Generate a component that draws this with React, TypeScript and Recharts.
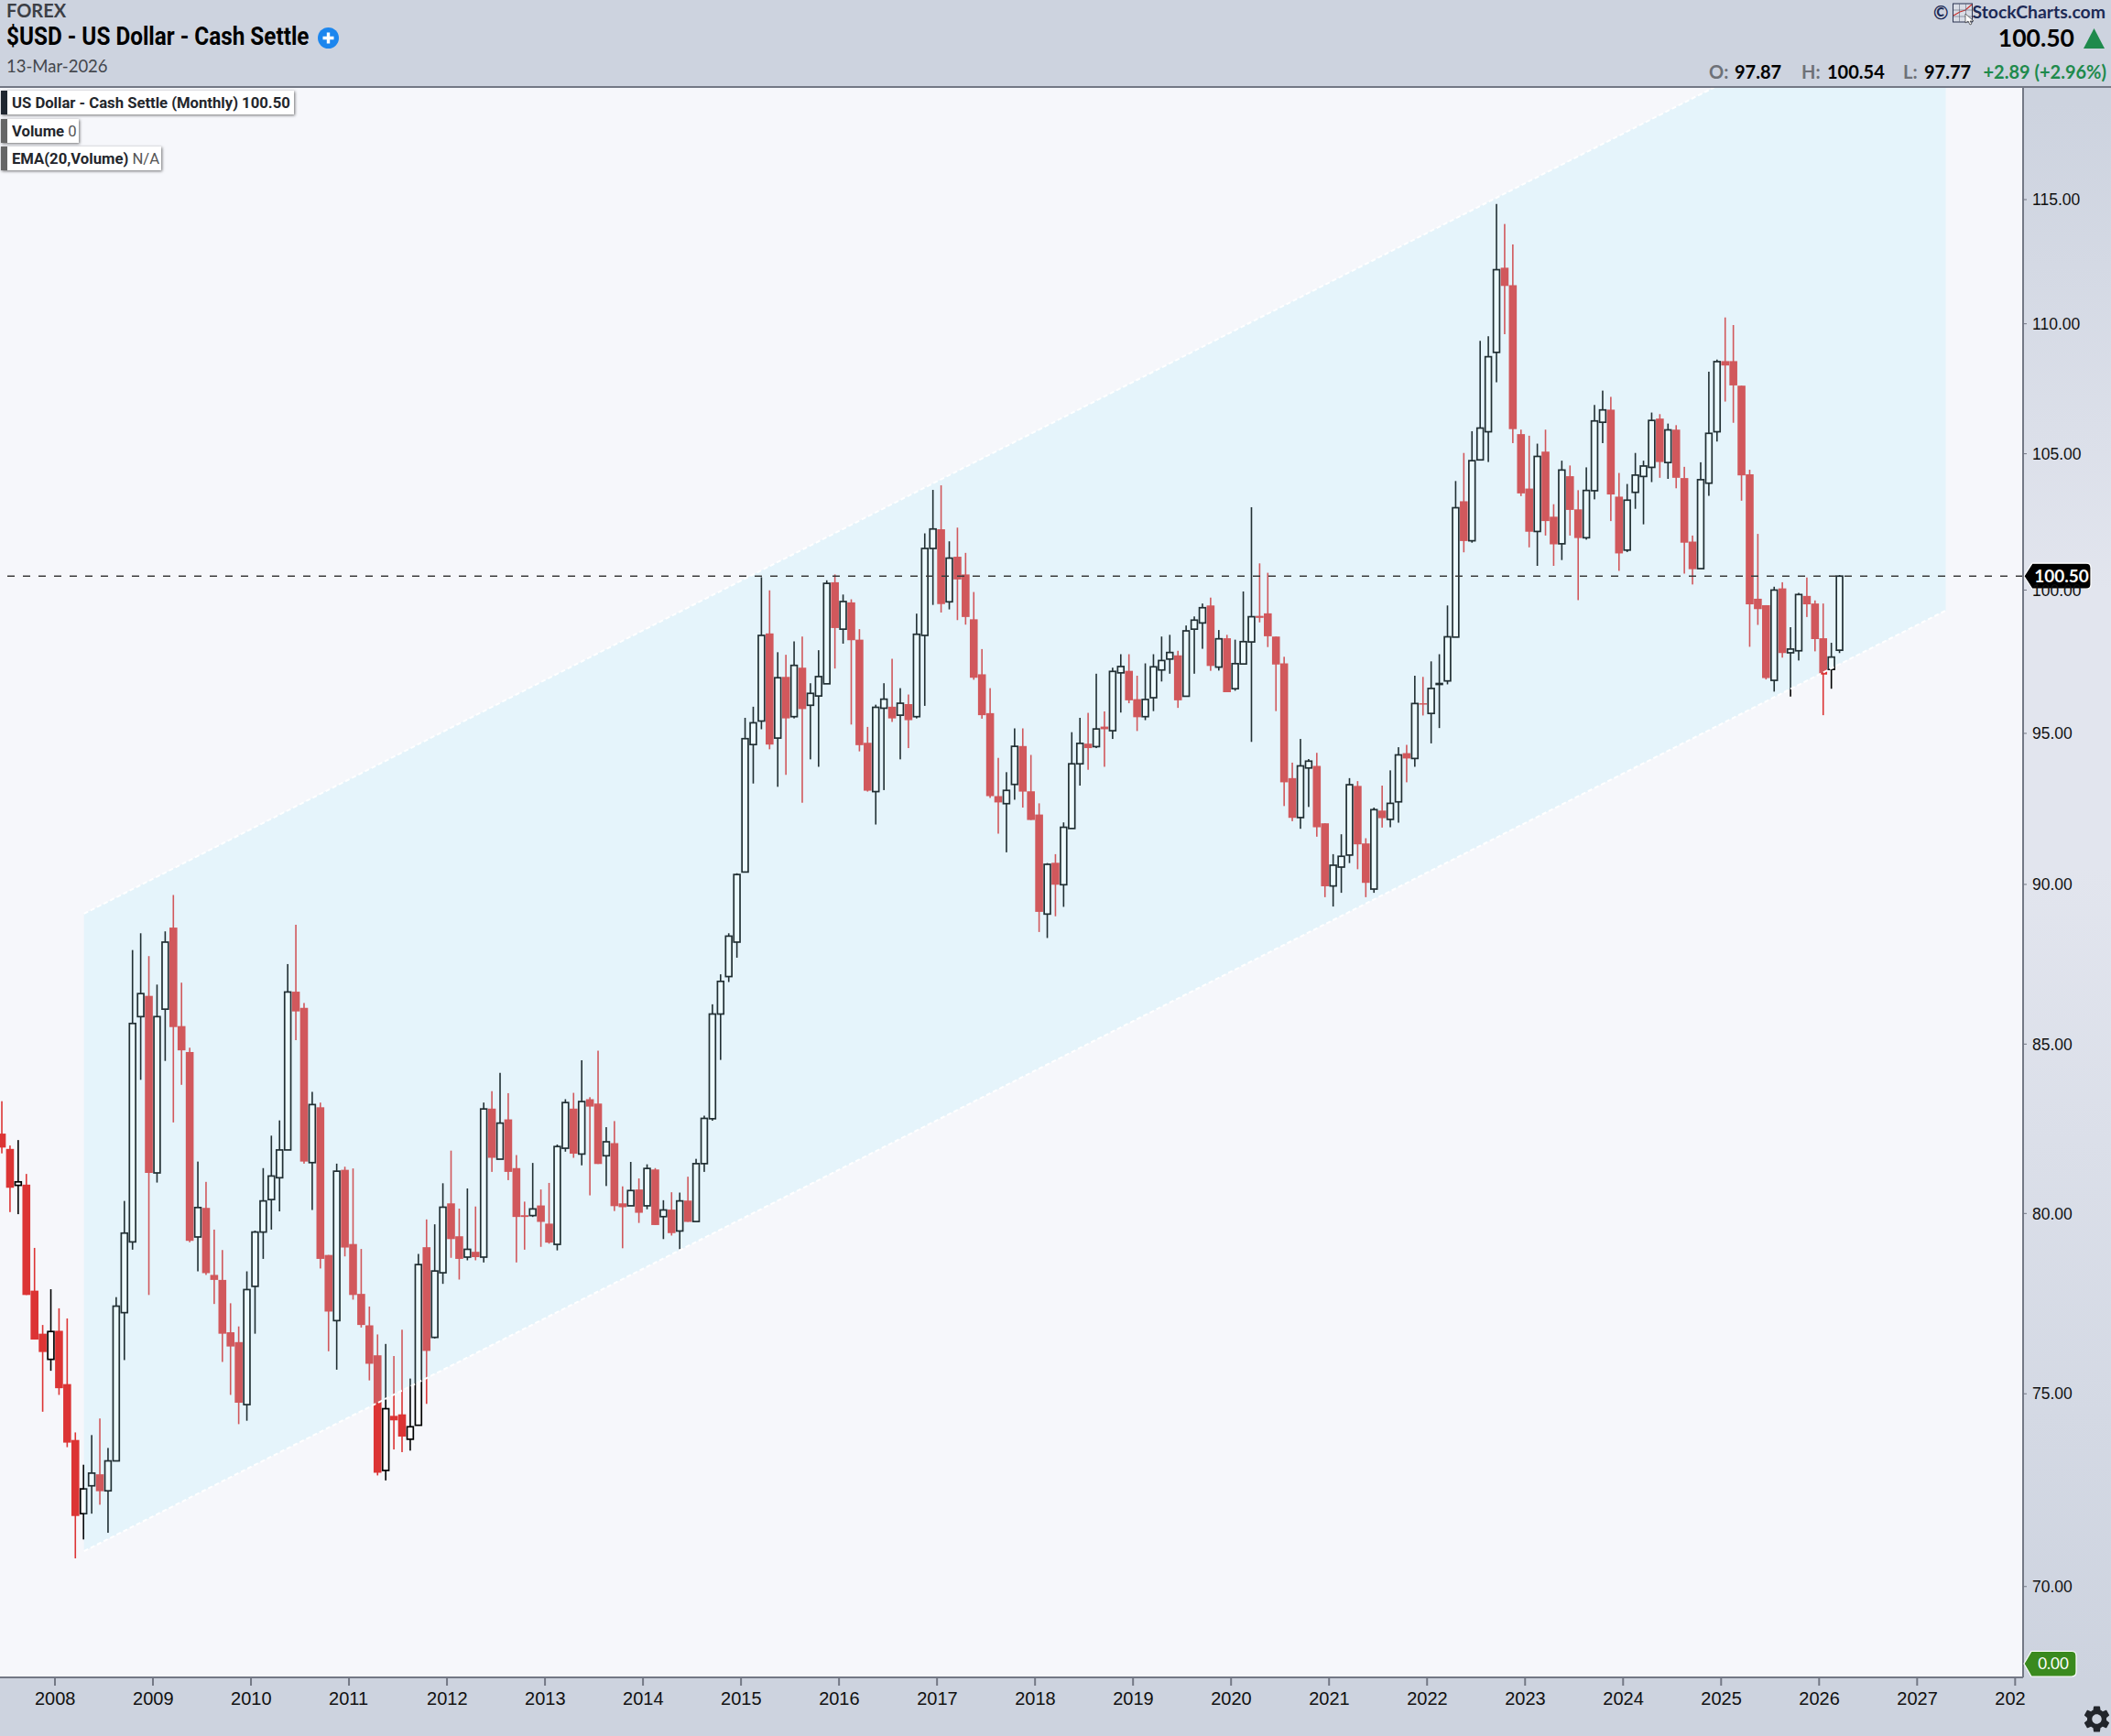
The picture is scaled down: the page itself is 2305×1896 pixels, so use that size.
import { Area, Bar, CartesianGrid, ComposedChart, ReferenceLine, XAxis, YAxis } from "recharts";

// monthly candles, first bar is Jun 2007, last is Mar 2026
const START_YEAR = 2007;
const START_MONTH = 5;

const opens = [
  82.32, 81.87, 80.81, 80.83, 77.82, 76.63, 75.93,
  76.71, 75.26, 73.77, 71.85, 72.57, 72.87, 72.44, 73.22, 77.21, 79.19, 85.84, 86.48,
  81.17, 86.07, 88.62, 85.55, 84.76, 79.33, 80.16, 78.26, 78.12, 76.67, 76.40, 74.71,
  77.94, 79.47, 80.40, 81.03, 81.84, 86.61, 86.11, 81.47, 83.10, 78.82, 76.99, 81.26,
  79.13, 77.73, 76.86, 76.04, 72.97, 74.41, 74.45, 73.79, 74.16, 79.04, 76.53, 78.32,
  80.29, 79.35, 78.76, 78.91, 78.76, 83.06, 81.57, 82.74, 81.31, 79.95, 79.94, 80.23,
  79.71, 79.12, 81.89, 83.06, 81.72, 83.34, 83.21, 81.67, 82.04, 80.29, 80.22, 80.69,
  80.22, 81.27, 79.91, 80.11, 79.50, 80.37, 79.77, 81.44, 82.76, 85.92, 87.08, 88.16,
  90.40, 94.62, 95.42, 98.46, 94.84, 96.94, 95.57, 97.26, 95.96, 96.28, 96.70, 100.28,
  98.61, 99.56, 98.24, 94.68, 93.04, 95.86, 95.91, 95.62, 96.00, 95.57, 98.39, 101.50,
  102.20, 99.58, 101.20, 100.56, 98.96, 97.03, 95.69, 92.89, 92.64, 93.28, 94.57, 93.05,
  92.28, 89.05, 90.70, 89.99, 91.82, 93.97, 94.65, 94.55, 95.23, 95.09, 97.08, 97.15,
  96.17, 95.57, 96.22, 97.18, 97.56, 97.69, 96.27, 98.61, 98.83, 99.45, 97.28, 98.29,
  96.53, 97.39, 98.16, 99.08, 99.17, 98.35, 97.41, 93.49, 92.18, 93.83, 93.90, 91.99,
  89.95, 90.56, 90.95, 93.23, 91.33, 89.85, 92.41, 92.12, 92.70, 94.33, 94.15, 96.03,
  95.68, 96.69, 96.80, 98.33, 103.23, 101.78, 104.77, 105.83, 108.88, 112.23, 111.53, 105.74,
  103.70, 102.12, 105.08, 102.66, 101.67, 104.16, 102.93, 101.89, 103.62, 106.19, 106.67, 103.40,
  101.44, 103.56, 104.15, 104.49, 106.33, 104.67, 105.91, 104.09, 101.75, 100.77, 103.90, 105.83,
  108.54, 108.54, 107.59, 104.23, 99.69, 99.46, 96.82, 100.06, 97.78, 97.85, 99.79, 99.52,
  98.29, 97.20, 97.87,
];

const highs = [
  83.28, 81.97, 82.13, 81.14, 79.02, 76.87, 77.86,
  77.33, 77.05, 73.97, 73.12, 73.90, 74.34, 73.56, 77.64, 80.36, 87.91, 88.44, 87.72,
  86.83, 88.50, 89.66, 86.89, 84.89, 81.50, 80.91, 79.54, 78.96, 77.47, 76.83, 78.36,
  79.51, 81.31, 82.26, 82.71, 87.47, 88.71, 86.26, 83.56, 83.24, 78.82, 81.44, 81.35,
  81.30, 78.99, 77.38, 76.61, 76.35, 76.02, 76.74, 75.41, 78.85, 79.83, 79.69, 80.87,
  81.82, 80.14, 80.72, 80.20, 83.24, 83.58, 84.13, 83.52, 81.69, 80.34, 81.46, 80.69,
  80.88, 82.00, 83.34, 83.53, 84.51, 83.40, 84.80, 82.51, 82.69, 80.78, 81.49, 81.01,
  81.42, 81.31, 80.38, 80.61, 80.60, 81.06, 81.58, 82.85, 86.22, 87.15, 88.44, 90.36,
  95.53, 95.91, 100.46, 99.99, 97.80, 97.71, 98.18, 98.35, 96.72, 97.87, 100.35, 100.56,
  99.84, 99.67, 98.61, 95.22, 95.98, 96.72, 97.57, 96.55, 96.33, 99.16, 102.05, 103.65,
  103.82, 101.76, 102.26, 101.34, 99.93, 97.91, 96.55, 94.17, 93.69, 95.17, 95.17, 94.27,
  92.65, 90.69, 90.98, 92.02, 95.04, 95.53, 95.70, 97.05, 95.75, 97.26, 97.73, 97.73,
  96.98, 97.41, 97.73, 98.35, 98.41, 97.85, 98.74, 99.06, 99.52, 99.73, 98.58, 98.41,
  98.24, 99.95, 103.01, 100.96, 100.62, 98.35, 97.64, 94.01, 94.81, 94.13, 94.34, 91.99,
  90.98, 91.63, 93.49, 93.39, 91.50, 92.51, 93.24, 93.75, 94.53, 94.61, 96.98, 96.94,
  97.48, 97.73, 99.45, 103.98, 105.03, 105.85, 109.33, 109.51, 114.82, 114.00, 113.17, 105.91,
  105.68, 105.38, 105.91, 103.12, 104.74, 104.56, 103.64, 104.49, 106.85, 107.40, 107.16, 104.28,
  103.87, 105.03, 104.74, 106.56, 106.50, 106.14, 106.08, 104.51, 101.97, 104.68, 108.13, 108.60,
  110.25, 109.95, 107.59, 104.40, 102.03, 99.46, 100.12, 100.28, 98.68, 99.90, 100.45, 99.63,
  99.52, 98.13, 100.54,
];

const lows = [
  81.74, 80.04, 79.98, 77.70, 76.47, 74.52, 75.62,
  74.97, 73.58, 70.71, 71.19, 71.85, 72.08, 71.36, 73.22, 75.91, 78.97, 83.92, 77.70,
  80.89, 84.49, 82.65, 83.77, 79.18, 78.36, 78.26, 77.45, 75.86, 74.97, 74.19, 74.28,
  76.63, 78.71, 79.54, 80.06, 81.84, 85.12, 81.44, 80.10, 78.44, 76.15, 75.65, 78.78,
  77.57, 76.80, 75.36, 72.84, 72.71, 73.52, 73.45, 73.49, 74.16, 74.73, 76.50, 78.01,
  78.74, 78.13, 78.67, 78.67, 78.61, 81.20, 81.57, 80.96, 78.61, 78.97, 79.90, 79.05,
  79.14, 78.95, 81.79, 81.61, 81.39, 80.52, 81.43, 80.79, 80.07, 79.01, 80.22, 79.73,
  80.12, 79.67, 79.27, 79.37, 78.98, 79.76, 79.77, 81.20, 82.70, 84.52, 86.91, 87.67,
  90.40, 93.31, 95.14, 94.46, 93.20, 93.60, 95.51, 92.67, 94.12, 93.87, 96.70, 97.23,
  98.10, 95.30, 94.39, 93.04, 91.95, 93.09, 95.39, 94.12, 94.50, 95.51, 95.94, 99.47,
  99.20, 99.31, 98.93, 98.77, 96.84, 95.50, 92.83, 91.65, 91.04, 92.77, 92.51, 92.10,
  88.48, 88.29, 88.98, 89.28, 91.82, 93.24, 93.77, 94.50, 93.87, 94.81, 95.71, 96.03,
  95.08, 95.45, 95.76, 96.78, 97.05, 95.87, 96.27, 97.05, 97.92, 97.15, 97.16, 96.41,
  96.46, 97.39, 94.71, 98.85, 97.98, 95.76, 92.56, 92.06, 91.81, 92.53, 91.55, 89.59,
  89.29, 89.73, 90.69, 90.49, 89.59, 89.73, 91.85, 91.86, 92.01, 93.35, 93.87, 95.61,
  94.66, 95.18, 96.68, 98.33, 101.36, 101.71, 104.77, 104.69, 107.72, 109.59, 105.40, 103.42,
  101.54, 100.87, 101.97, 100.87, 101.08, 101.97, 99.64, 101.82, 103.30, 105.40, 102.50, 100.69,
  101.37, 102.95, 102.38, 103.94, 104.10, 104.06, 103.71, 100.59, 100.20, 100.77, 103.43, 105.46,
  106.98, 106.17, 103.25, 97.99, 98.76, 96.85, 96.43, 97.61, 96.26, 97.51, 99.04, 97.83,
  95.62, 96.53, 97.77,
];

const closes = [
  81.91, 80.74, 80.91, 77.70, 76.47, 76.13, 76.69,
  75.15, 73.70, 71.79, 72.49, 72.90, 72.43, 73.22, 77.39, 79.44, 85.63, 86.55, 81.17,
  85.84, 88.16, 85.52, 84.81, 79.22, 80.17, 78.31, 78.12, 76.63, 76.28, 74.76, 77.85,
  79.47, 80.36, 81.08, 81.84, 86.60, 86.00, 81.50, 83.18, 78.71, 77.24, 81.22, 79.03,
  77.70, 76.87, 75.81, 72.91, 74.60, 74.29, 73.86, 74.12, 78.55, 76.16, 78.37, 80.18,
  79.27, 78.71, 78.98, 78.76, 83.05, 81.61, 82.63, 81.20, 79.90, 79.90, 80.13, 79.76,
  79.17, 81.94, 83.24, 81.73, 83.27, 83.12, 81.43, 82.08, 80.21, 80.18, 80.66, 80.02,
  81.30, 79.67, 80.10, 79.44, 80.36, 79.76, 81.44, 82.77, 85.92, 86.93, 88.35, 90.32,
  94.82, 95.36, 98.39, 94.62, 96.91, 95.51, 97.34, 95.83, 96.37, 96.95, 100.24, 98.65,
  99.59, 98.22, 94.60, 93.07, 95.89, 96.17, 95.51, 96.03, 95.45, 98.43, 101.50, 102.21,
  99.50, 101.15, 100.38, 99.04, 96.91, 95.62, 92.89, 92.68, 93.08, 94.56, 93.04, 92.10,
  89.12, 90.65, 89.99, 91.86, 93.97, 94.66, 94.50, 95.15, 95.14, 97.13, 97.30, 96.13,
  95.55, 96.16, 97.29, 97.51, 97.79, 96.13, 98.55, 98.93, 99.37, 97.32, 98.27, 96.41,
  97.40, 98.17, 99.05, 99.01, 98.36, 97.37, 93.35, 92.17, 93.90, 94.06, 91.86, 89.94,
  90.62, 90.91, 93.27, 91.30, 90.05, 92.44, 92.16, 92.65, 94.27, 94.15, 96.02, 96.00,
  96.54, 96.71, 98.34, 102.99, 101.77, 104.74, 105.97, 108.71, 112.15, 111.50, 105.93, 103.52,
  102.11, 104.90, 102.50, 101.65, 104.39, 102.91, 101.88, 103.63, 106.24, 106.66, 103.48, 101.32,
  103.27, 104.20, 104.54, 106.26, 104.69, 105.90, 104.10, 101.71, 100.75, 104.03, 105.77, 108.52,
  108.37, 107.60, 104.19, 99.49, 99.32, 96.90, 100.00, 97.77, 97.91, 99.84, 99.49, 98.26,
  97.02, 97.63, 100.50,
];

const yTicks = [70, 75, 80, 85, 90, 95, 100, 105, 110, 115];
const xTicks = [2008, 2009, 2010, 2011, 2012, 2013, 2014, 2015, 2016, 2017, 2018, 2019, 2020, 2021, 2022, 2023, 2024, 2025, 2026, 2027, 2028];

// the drawn channel: lower and upper edge at its two ends
const channelTimes = [2008.296, 2027.292];
const channelLower = [70.89, 99.27];
const channelUpper = [89.06, 124.85];

const lastClose = 100.5;

const candles = opens.map((open, i) => ({
  t: START_YEAR + (START_MONTH + i + 0.5) / 12,
  open,
  high: highs[i],
  low: lows[i],
  close: closes[i],
}));

const channelRows = channelTimes.map((t, i) => ({
  t,
  channel: [channelLower[i], channelUpper[i]],
}));

const AXIS_LINE = "#737885";
const LABEL_FONT = "'Liberation Sans', Arial, sans-serif";
const GREEN = "#1e8a4c";

function Candle(props: any) {
  const { x, y, width, height, payload } = props;
  if (!payload || !height) return null;
  const { open, high, low, close } = payload;
  // bar spans high..low on the log axis, so place open/close by log ratio
  const yOf = (v: number) => y + (height * Math.log(high / v)) / Math.log(high / low);
  const cx = x + width / 2;
  const top = yOf(Math.max(open, close));
  const bottom = yOf(Math.min(open, close));
  if (close < open) {
    return (
      <g>
        <rect x={cx - 0.8} y={y} width={1.6} height={height} fill="#dc3434" />
        <rect x={cx - 4.3} y={top} width={8.6} height={Math.max(bottom - top, 1.5)} fill="#dc3434" />
      </g>
    );
  }
  return (
    <g>
      <rect x={cx - 0.8} y={y} width={1.6} height={height} fill="#000" />
      <rect
        x={cx - 3.4}
        y={top}
        width={6.8}
        height={Math.max(bottom - top, 1)}
        fill="#fff"
        stroke="#000"
        strokeWidth={1.7}
      />
    </g>
  );
}

function YearTick(props: any) {
  const { x, y, payload } = props;
  // the last year label is cut by the price axis in the original
  const label = payload.value === 2028 ? "202" : String(payload.value);
  return (
    <text x={x - 22} y={y + 19} fontSize={20} fontFamily={LABEL_FONT} fill="#111">
      {label}
    </text>
  );
}

function PriceBadge(props: any) {
  const { viewBox } = props;
  const left = viewBox.x + viewBox.width + 1;
  const cy = viewBox.y;
  return (
    <g>
      <path
        d={`M${left} ${cy} L${left + 9} ${cy - 14} H${left + 68} q5 0 5 5 V${cy + 9} q0 5 -5 5 H${left + 9} Z`}
        fill="#000"
        stroke="#fff"
        strokeWidth={1.2}
      />
      <text
        x={left + 41}
        y={cy + 7}
        textAnchor="middle"
        fontSize={19}
        fontWeight={700}
        fontFamily="Lato, sans-serif"
        fill="#fff"
      >
        100.50
      </text>
    </g>
  );
}

function LegendChip({ top, width, barColor, bold, light }: any) {
  return (
    <div
      style={{
        position: "absolute",
        left: 1,
        top,
        width,
        height: 26,
        background: "#fff",
        boxShadow: "1px 1px 3px rgba(0,0,0,0.55)",
      }}
    >
      <div style={{ position: "absolute", left: 0, top: 0, width: 7, height: 26, background: barColor }} />
      <div
        style={{
          position: "absolute",
          left: 12,
          top: 2,
          whiteSpace: "nowrap",
          fontFamily: "Roboto, sans-serif",
          fontSize: 17,
          lineHeight: "22px",
          color: "#23262c",
          transform: "scaleX(0.98)",
          transformOrigin: "left center",
        }}
      >
        <b>{bold}</b>
        {light ? <span style={{ color: "#555" }}> {light}</span> : null}
      </div>
    </div>
  );
}

function HeaderText({ left, right, top, size, weight, color, family, children }: any) {
  return (
    <div
      style={{
        position: "absolute",
        left,
        right,
        top,
        fontSize: size,
        fontWeight: weight,
        color,
        fontFamily: family || "Lato, sans-serif",
        lineHeight: 1,
        whiteSpace: "nowrap",
      }}
    >
      {children}
    </div>
  );
}

export default function App() {
  return (
    <div
      style={{
        position: "absolute",
        left: 0,
        top: 0,
        width: 2305,
        height: 1896,
        overflow: "hidden",
        background: "linear-gradient(#cdd3df 0, #cdd3df 6%, #e2e5ee 34%, #e2e5ee 50%, #cdd3df 97%)",
      }}
    >
      <div style={{ position: "absolute", left: 0, right: 0, top: 0, height: 95, background: "#cdd3df" }} />
      <div style={{ position: "absolute", left: 0, right: 0, top: 1833, height: 63, background: "#cdd3df" }} />

      <ComposedChart
        width={2305}
        height={1896}
        data={candles}
        margin={{ top: 95, right: 0, bottom: 0, left: 0 }}
        style={{ position: "absolute", left: 0, top: 0 }}
      >
        <CartesianGrid fill="#f6f7fb" horizontal={false} vertical={false} />
        <XAxis
          dataKey="t"
          type="number"
          domain={[2007.4393, 2028.081]}
          allowDataOverflow
          ticks={xTicks}
          interval={0}
          height={64}
          tickSize={9}
          tick={<YearTick />}
          stroke={AXIS_LINE}
          axisLine={{ stroke: AXIS_LINE, strokeWidth: 2 }}
          tickLine={{ stroke: AXIS_LINE, strokeWidth: 2 }}
        />
        <YAxis
          orientation="right"
          scale="log"
          domain={[67.76, 119.73]}
          allowDataOverflow
          ticks={yTicks}
          interval={0}
          width={96}
          tickSize={4}
          tickMargin={6}
          tickFormatter={(v: number) => v.toFixed(2)}
          tick={{ fontSize: 17.5, fontFamily: LABEL_FONT, fill: "#111" }}
          axisLine={{ stroke: AXIS_LINE, strokeWidth: 2 }}
          tickLine={{ stroke: AXIS_LINE }}
        />
        <Bar
          dataKey={(d: any) => [d.low, d.high]}
          barSize={8}
          shape={<Candle />}
          isAnimationActive={false}
        />
        <ReferenceLine
          y={lastClose}
          stroke="#3b3b3b"
          strokeWidth={1.5}
          strokeDasharray="8 9"
          label={<PriceBadge />}
        />
        {/* the channel is a see-through overlay on top of the candles */}
        <Area
          data={channelRows}
          dataKey="channel"
          type="linear"
          stroke="#fff"
          strokeWidth={2}
          strokeDasharray="5 3"
          fill="rgb(165,235,255)"
          fillOpacity={0.2}
          dot={false}
          activeDot={false}
          isAnimationActive={false}
          zIndex={350}
        />
      </ComposedChart>

      <div style={{ position: "absolute", left: 0, right: 0, top: 94, height: 2, background: AXIS_LINE }} />

      {/* header, left */}
      <HeaderText left={7} top={1} size={20} weight={700} color="#3c3f46">FOREX</HeaderText>
      <HeaderText left={7} top={27} size={27} weight={700} color="#000" family="Roboto, sans-serif">
        <span style={{ display: "inline-block", transform: "scaleX(0.9)", transformOrigin: "left center" }}>
          $USD - US Dollar - Cash Settle
        </span>
      </HeaderText>
      <svg style={{ position: "absolute", left: 347, top: 30 }} width={23} height={23}>
        <circle cx={11.5} cy={11.5} r={11.5} fill="#1c86ee" />
        <path d="M11.5 5.5v12M5.5 11.5h12" stroke="#fff" strokeWidth={3.4} />
      </svg>
      <HeaderText left={7} top={63} size={18.5} weight={400} color="#44474d">13-Mar-2026</HeaderText>

      {/* header, right */}
      <HeaderText left={2111} top={3} size={20} weight={700} color="#1d2a55">©</HeaderText>
      <svg style={{ position: "absolute", left: 2132, top: 2 }} width={25} height={26}>
        <rect x={0.5} y={2} width={21} height={20} fill="#d9dde6" stroke="#2b3350" strokeWidth={1} />
        <path d="M1 15 L8 11 L14 9 L21 3" stroke="#c9302c" strokeWidth={1.2} fill="none" />
        <path d="M7.5 2v20M14.5 2v20M1 9h20M1 16h20" stroke="#5c6478" strokeWidth={0.6} />
        <path d="M14 13 L23 21 L19 21 L21 24 L19 25 L17 21 L14 23 Z" fill="#fff" stroke="#333" strokeWidth={0.7} />
      </svg>
      <HeaderText right={6} top={3} size={19.4} weight={700} color="#1d2a55">StockCharts.com</HeaderText>
      <HeaderText right={40} top={28} size={26.5} weight={700} color="#000">100.50</HeaderText>
      <svg style={{ position: "absolute", left: 2275, top: 31 }} width={23} height={22}>
        <path d="M11.5 0 L23 22 H0 Z" fill={GREEN} />
      </svg>
      <HeaderText left={1866} top={68} size={20} weight={700} color="#6e7178">O:</HeaderText>
      <HeaderText left={1894} top={68} size={20} weight={700} color="#000">97.87</HeaderText>
      <HeaderText left={1967} top={68} size={20} weight={700} color="#6e7178">H:</HeaderText>
      <HeaderText left={1995} top={68} size={20} weight={700} color="#000">100.54</HeaderText>
      <HeaderText left={2078} top={68} size={20} weight={700} color="#6e7178">L:</HeaderText>
      <HeaderText left={2101} top={68} size={20} weight={700} color="#000">97.77</HeaderText>
      <HeaderText right={5} top={68} size={20} weight={700} color={GREEN}>+2.89 (+2.96%)</HeaderText>

      {/* indicator legend */}
      <LegendChip top={99} width={320} barColor="#1f2630" bold="US Dollar - Cash Settle (Monthly) 100.50" />
      <LegendChip top={130} width={85} barColor="#666" bold="Volume" light="0" />
      <LegendChip top={160} width={175} barColor="#666" bold="EMA(20,Volume)" light="N/A" />

      {/* volume badge and settings gear */}
      <svg style={{ position: "absolute", left: 2209, top: 1802 }} width={60} height={31}>
        <path d="M1 15 L9 1.5 H53 q5 0 5 5 V24 q0 5 -5 5 H9 Z" fill="#3a8a1e" stroke="#fff" strokeWidth={1.2} />
        <text x={33} y={21} textAnchor="middle" fontSize={17} fontFamily="Lato, sans-serif" fill="#fff">0.00</text>
      </svg>
      <svg style={{ position: "absolute", left: 2272, top: 1860 }} width={35} height={35} viewBox="0 0 24 24">
        <path
          fill="#22252b"
          d="M19.14 12.94c.04-.3.06-.61.06-.94 0-.32-.02-.64-.07-.94l2.03-1.58c.18-.14.23-.41.12-.61l-1.92-3.32c-.12-.22-.37-.29-.59-.22l-2.39.96c-.5-.38-1.03-.7-1.62-.94l-.36-2.54c-.04-.24-.24-.41-.48-.41h-3.84c-.24 0-.43.17-.47.41l-.36 2.54c-.59.24-1.13.57-1.62.94l-2.39-.96c-.22-.08-.47 0-.59.22L2.74 8.87c-.12.21-.08.47.12.61l2.03 1.58c-.05.3-.09.63-.09.94s.02.64.07.94l-2.03 1.58c-.18.14-.23.41-.12.61l1.92 3.32c.12.22.37.29.59.22l2.39-.96c.5.38 1.03.7 1.62.94l.36 2.54c.05.24.24.41.48.41h3.84c.24 0 .44-.17.47-.41l.36-2.54c.59-.24 1.13-.56 1.62-.94l2.39.96c.22.08.47 0 .59-.22l1.92-3.32c.12-.22.07-.47-.12-.61l-2.01-1.58zM12 15.6c-1.98 0-3.6-1.62-3.6-3.6s1.62-3.6 3.6-3.6 3.6 1.62 3.6 3.6-1.62 3.6-3.6 3.6z"
        />
      </svg>
    </div>
  );
}
